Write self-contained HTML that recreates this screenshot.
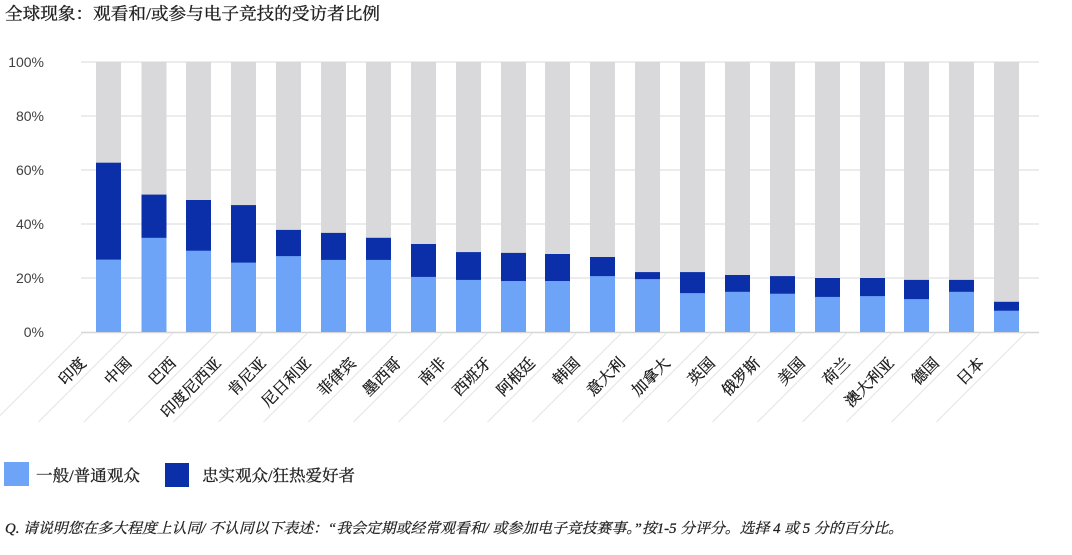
<!DOCTYPE html>
<html>
<head>
<meta charset="utf-8">
<style>
html,body{margin:0;padding:0;background:#fff;}
svg{display:block;}
.ser{font-family:"Liberation Serif","Noto Serif CJK SC",serif;}
.san{font-family:"Liberation Sans","Noto Sans CJK SC",sans-serif;}
</style>
</head>
<body>
<svg width="1072" height="555" viewBox="0 0 1072 555" xmlns="http://www.w3.org/2000/svg">
<rect width="1072" height="555" fill="#fff"/>
<!-- title -->
<text class="ser" x="5" y="19.5" font-size="17" fill="#222" stroke="#222" stroke-width="0.35" textLength="375" lengthAdjust="spacingAndGlyphs">全球现象：观看和/或参与电子竞技的受访者比例</text>

<!-- gridlines -->
<g stroke="#e0e0e0" stroke-width="1.2">
<line x1="81" y1="62" x2="1039" y2="62"/>
<line x1="81" y1="116" x2="1039" y2="116"/>
<line x1="81" y1="170" x2="1039" y2="170"/>
<line x1="81" y1="224" x2="1039" y2="224"/>
<line x1="81" y1="278" x2="1039" y2="278"/>
</g>
<line x1="81" y1="332.5" x2="1039" y2="332.5" stroke="#d6d6d6" stroke-width="1.5"/>

<!-- y labels -->
<g class="san" font-size="14" fill="#404040" text-anchor="end">
<text x="44" y="67">100%</text>
<text x="44" y="121">80%</text>
<text x="44" y="175">60%</text>
<text x="44" y="229">40%</text>
<text x="44" y="283">20%</text>
<text x="44" y="337">0%</text>
</g>

<!-- gray backgrounds -->
<g fill="#d9d9db">
<rect x="96" y="62" width="25" height="270"/>
<rect x="141.5" y="62" width="25" height="270"/>
<rect x="186" y="62" width="25" height="270"/>
<rect x="231" y="62" width="25" height="270"/>
<rect x="276" y="62" width="25" height="270"/>
<rect x="321" y="62" width="25" height="270"/>
<rect x="366" y="62" width="25" height="270"/>
<rect x="411" y="62" width="25" height="270"/>
<rect x="456" y="62" width="25" height="270"/>
<rect x="501" y="62" width="25" height="270"/>
<rect x="545" y="62" width="25" height="270"/>
<rect x="590" y="62" width="25" height="270"/>
<rect x="635" y="62" width="25" height="270"/>
<rect x="680" y="62" width="25" height="270"/>
<rect x="725" y="62" width="25" height="270"/>
<rect x="770" y="62" width="25" height="270"/>
<rect x="815" y="62" width="25" height="270"/>
<rect x="860" y="62" width="25" height="270"/>
<rect x="904" y="62" width="25" height="270"/>
<rect x="949" y="62" width="25" height="270"/>
<rect x="994" y="62" width="25" height="270"/>
</g>
<!-- dark blue (total) -->
<g fill="#0a2fa8">
<rect x="96" y="162.7" width="25" height="169.3"/>
<rect x="141.5" y="194.6" width="25" height="137.4"/>
<rect x="186" y="200" width="25" height="132"/>
<rect x="231" y="205.1" width="25" height="126.9"/>
<rect x="276" y="229.9" width="25" height="102.1"/>
<rect x="321" y="232.9" width="25" height="99.1"/>
<rect x="366" y="237.8" width="25" height="94.2"/>
<rect x="411" y="244" width="25" height="88"/>
<rect x="456" y="252.1" width="25" height="79.9"/>
<rect x="501" y="252.9" width="25" height="79.1"/>
<rect x="545" y="254" width="25" height="78"/>
<rect x="590" y="257" width="25" height="75"/>
<rect x="635" y="272.1" width="25" height="59.9"/>
<rect x="680" y="272.1" width="25" height="59.9"/>
<rect x="725" y="275" width="25" height="57"/>
<rect x="770" y="276.1" width="25" height="55.9"/>
<rect x="815" y="278" width="25" height="54"/>
<rect x="860" y="278" width="25" height="54"/>
<rect x="904" y="279.9" width="25" height="52.1"/>
<rect x="949" y="279.9" width="25" height="52.1"/>
<rect x="994" y="301.8" width="25" height="30.2"/>
</g>
<!-- light blue -->
<g fill="#6ea4f8">
<rect x="96" y="259.6" width="25" height="72.4"/>
<rect x="141.5" y="237.8" width="25" height="94.2"/>
<rect x="186" y="250.7" width="25" height="81.3"/>
<rect x="231" y="262.6" width="25" height="69.4"/>
<rect x="276" y="256.1" width="25" height="75.9"/>
<rect x="321" y="259.9" width="25" height="72.1"/>
<rect x="366" y="259.9" width="25" height="72.1"/>
<rect x="411" y="276.9" width="25" height="55.1"/>
<rect x="456" y="279.9" width="25" height="52.1"/>
<rect x="501" y="281" width="25" height="51"/>
<rect x="545" y="281" width="25" height="51"/>
<rect x="590" y="276.1" width="25" height="55.9"/>
<rect x="635" y="279.1" width="25" height="52.9"/>
<rect x="680" y="293.1" width="25" height="38.9"/>
<rect x="725" y="291.8" width="25" height="40.2"/>
<rect x="770" y="293.7" width="25" height="38.3"/>
<rect x="815" y="296.9" width="25" height="35.1"/>
<rect x="860" y="296.1" width="25" height="35.9"/>
<rect x="904" y="299.1" width="25" height="32.9"/>
<rect x="949" y="291.8" width="25" height="40.2"/>
<rect x="994" y="310.7" width="25" height="21.3"/>
</g>

<!-- diagonal separators -->
<g stroke="#e4e4e4" stroke-width="1">
<line x1="82.5" y1="333" x2="-6.5" y2="422"/>
<line x1="127.5" y1="333" x2="38.5" y2="422"/>
<line x1="173" y1="333" x2="84" y2="422"/>
<line x1="217.5" y1="333" x2="128.5" y2="422"/>
<line x1="262.5" y1="333" x2="173.5" y2="422"/>
<line x1="307.5" y1="333" x2="218.5" y2="422"/>
<line x1="352.5" y1="333" x2="263.5" y2="422"/>
<line x1="397.5" y1="333" x2="308.5" y2="422"/>
<line x1="442.5" y1="333" x2="353.5" y2="422"/>
<line x1="487.5" y1="333" x2="398.5" y2="422"/>
<line x1="532.5" y1="333" x2="443.5" y2="422"/>
<line x1="576.5" y1="333" x2="487.5" y2="422"/>
<line x1="621.5" y1="333" x2="532.5" y2="422"/>
<line x1="666.5" y1="333" x2="577.5" y2="422"/>
<line x1="711.5" y1="333" x2="622.5" y2="422"/>
<line x1="756.5" y1="333" x2="667.5" y2="422"/>
<line x1="801.5" y1="333" x2="712.5" y2="422"/>
<line x1="846.5" y1="333" x2="757.5" y2="422"/>
<line x1="891.5" y1="333" x2="802.5" y2="422"/>
<line x1="935.5" y1="333" x2="846.5" y2="422"/>
<line x1="980.5" y1="333" x2="891.5" y2="422"/>
<line x1="1025.5" y1="333" x2="936.5" y2="422"/>
</g>

<!-- x labels -->
<g class="ser" font-size="15.5" fill="#1a1a1a" stroke="#1a1a1a" stroke-width="0.35" text-anchor="end">
<text transform="translate(87,364) rotate(-45)">印度</text>
<text transform="translate(132.5,364) rotate(-45)">中国</text>
<text transform="translate(177,364) rotate(-45)">巴西</text>
<text transform="translate(222,364) rotate(-45)">印度尼西亚</text>
<text transform="translate(267,364) rotate(-45)">肯尼亚</text>
<text transform="translate(312,364) rotate(-45)">尼日利亚</text>
<text transform="translate(357,364) rotate(-45)">菲律宾</text>
<text transform="translate(402,364) rotate(-45)">墨西哥</text>
<text transform="translate(447,364) rotate(-45)">南非</text>
<text transform="translate(492,364) rotate(-45)">西班牙</text>
<text transform="translate(536,364) rotate(-45)">阿根廷</text>
<text transform="translate(581,364) rotate(-45)">韩国</text>
<text transform="translate(626,364) rotate(-45)">意大利</text>
<text transform="translate(671,364) rotate(-45)">加拿大</text>
<text transform="translate(716,364) rotate(-45)">英国</text>
<text transform="translate(761,364) rotate(-45)">俄罗斯</text>
<text transform="translate(806,364) rotate(-45)">美国</text>
<text transform="translate(851,364) rotate(-45)">荷兰</text>
<text transform="translate(895,364) rotate(-45)">澳大利亚</text>
<text transform="translate(940,364) rotate(-45)">德国</text>
<text transform="translate(985,364) rotate(-45)">日本</text>
</g>

<!-- legend -->
<rect x="4" y="462" width="25" height="24" fill="#6ea4f8"/>
<text class="ser" x="36" y="481" font-size="16" fill="#222" stroke="#222" stroke-width="0.3" textLength="104" lengthAdjust="spacingAndGlyphs">一般/普通观众</text>
<rect x="165" y="463" width="24" height="24" fill="#0a2fa8"/>
<text class="ser" x="202" y="481" font-size="16" fill="#222" stroke="#222" stroke-width="0.3" textLength="153" lengthAdjust="spacingAndGlyphs">忠实观众/狂热爱好者</text>

<!-- footnote -->
<text class="ser" x="5" y="533" font-size="14.5" font-style="italic" fill="#222" stroke="#222" stroke-width="0.25" textLength="898" lengthAdjust="spacingAndGlyphs">Q. 请说明您在多大程度上认同/ 不认同以下表述：“我会定期或经常观看和/ 或参加电子竞技赛事。”按1-5 分评分。选择 4 或 5 分的百分比。</text>
</svg>
</body>
</html>
